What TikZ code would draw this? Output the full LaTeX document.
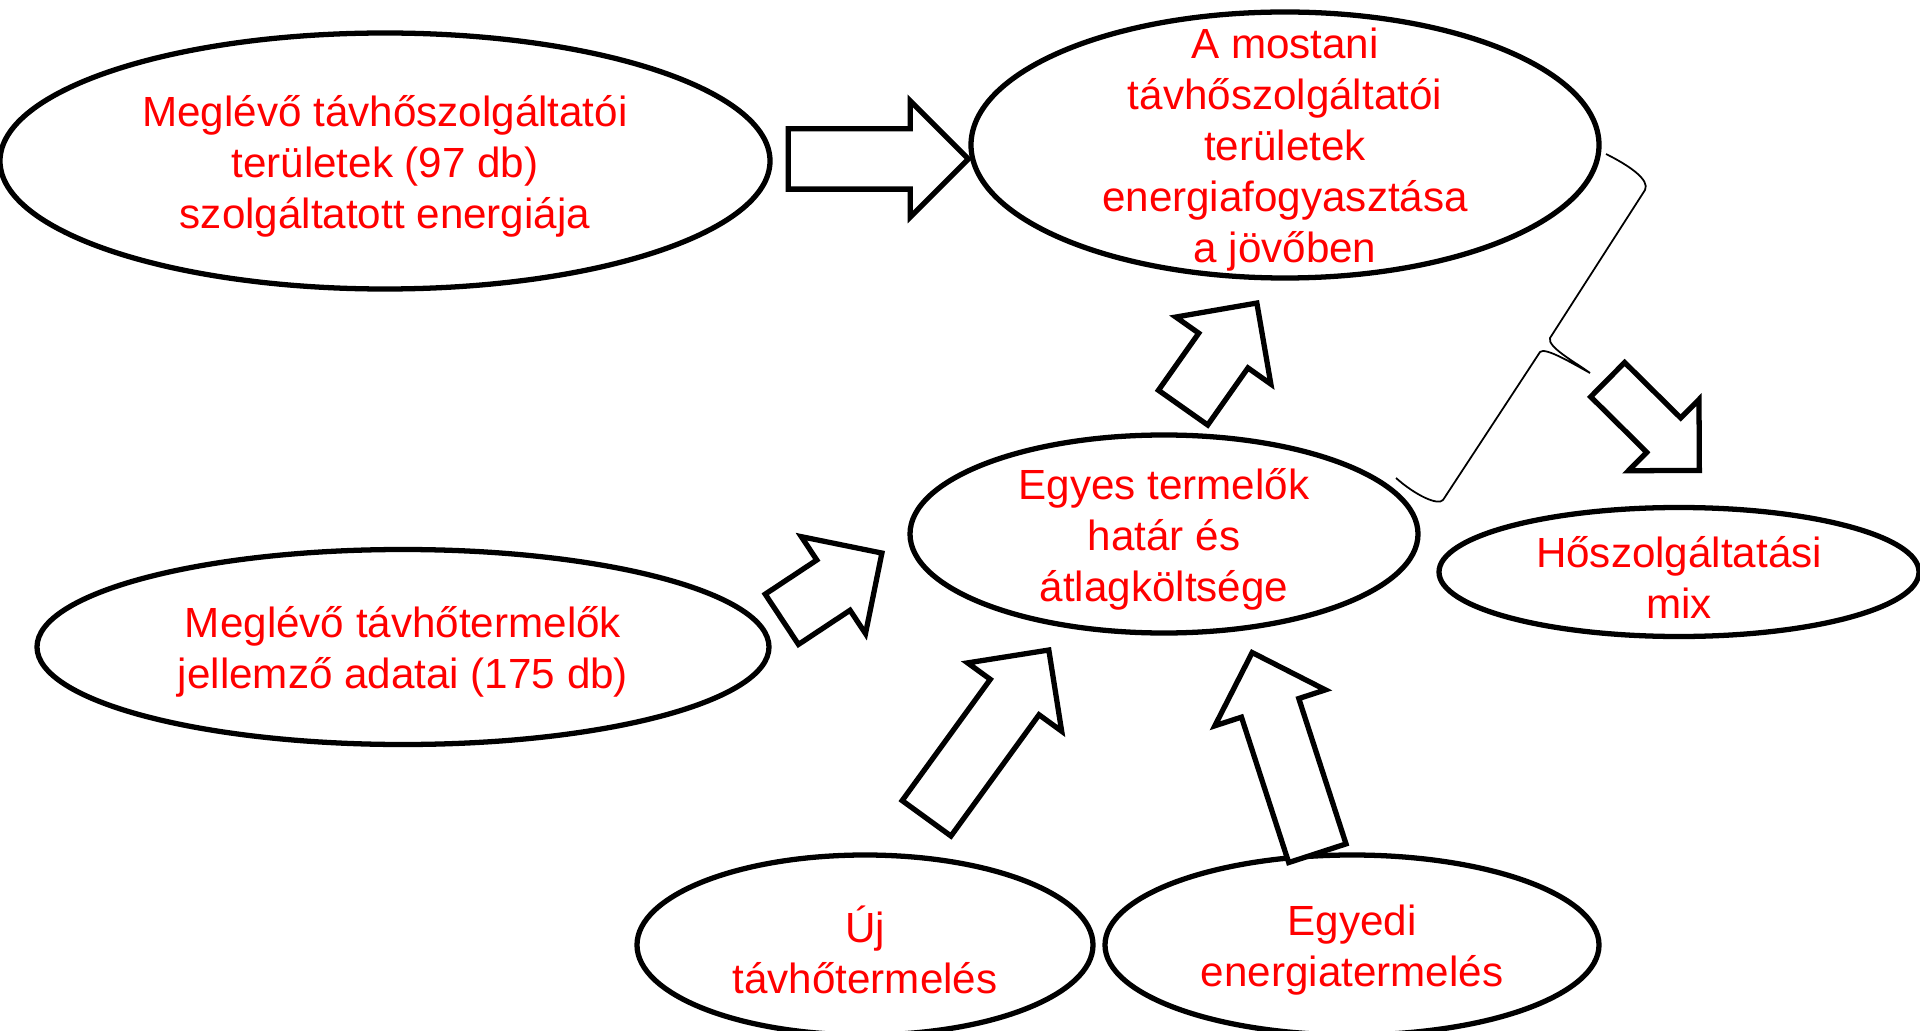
\documentclass[tikz,border=0pt]{standalone}
\usepackage{fontspec}
\setmainfont{Liberation Sans}
\usetikzlibrary{shapes.geometric,shapes.arrows}

\begin{document}
\begin{tikzpicture}[ell/.style={ellipse, draw, line width=1.5pt, inner sep=0pt}, txt/.style={text=red, align=center, inner sep=0pt, yshift=-0.05cm, font=\fontsize{12pt}{14.5pt}\selectfont}, blok/.style={single arrow, draw, line width=1.5pt, fill=white, inner sep=0.275cm, single arrow head extend=0.28cm, anchor=tip}]

\useasboundingbox (0,0) rectangle (19.2,-10.31);

\node at (3.85,-1.61) [ell, minimum width=7.7cm, minimum height=2.56cm, label={[txt]center:{Meglévő távhőszolgáltatói\\területek (97 db)\\szolgáltatott energiája}}] (szolgaltatott) {};
\node at (12.85,-1.45) [ell, minimum width=6.28cm, minimum height=2.66cm, label={[txt]center:{A mostani\\távhőszolgáltatói\\területek\\energiafogyasztása\\a jövőben}}] (fogyasztas) {};
\node at (11.64,-5.34) [ell, minimum width=5.08cm, minimum height=1.98cm, label={[txt]center:{Egyes termelők\\határ és\\átlagköltsége}}] (koltseg) {};
\node at (16.79,-5.72) [ell, minimum width=4.8cm, minimum height=1.29cm, label={[txt]center:{Hőszolgáltatási\\mix}}] (mix) {};
\node at (4.03,-6.47) [ell, minimum width=7.32cm, minimum height=1.95cm, label={[txt]center:{Meglévő távhőtermelők\\jellemző adatai (175 db)}}] (termelok) {};
\node at (8.65,-9.45) [ell, minimum width=4.56cm, minimum height=1.8cm, label={[txt]center:{Új\\távhőtermelés}}] (ujtermeles) {};
\node at (13.52,-9.45) [ell, minimum width=4.94cm, minimum height=1.8cm, label={[txt]center:{Egyedi\\energiatermelés}}] (egyedi) {};

\node at (9.72,-1.59) [blok, minimum height=1.8cm] (nyil1) {};
\node at (12.59,-3.00) [blok, rotate=54.8, minimum height=1.28cm] (nyil2) {};
\node at (8.85,-5.51) [blok, rotate=33.5, minimum height=1.2cm] (nyil3) {};
\node at (10.51,-6.47) [blok, rotate=54, minimum height=2.08cm] (nyil4) {};
\node at (12.51,-6.49) [blok, rotate=108, minimum height=2.11cm] (nyil5) {};
\node at (17.02,-4.73) [blok, rotate=-44.7, inner sep=0.215cm, single arrow head extend=0.26cm, minimum height=1.29cm] (nyil6) {};

\draw [line width=0.5pt] (16.06,-1.54) .. controls (16.30,-1.66) and (16.50,-1.80) .. (16.45,-1.90) -- (15.50,-3.38) .. controls (15.47,-3.47) and (15.75,-3.62) .. (15.90,-3.73) .. controls (15.70,-3.62) and (15.45,-3.47) .. (15.40,-3.52) -- (14.43,-5.00) .. controls (14.38,-5.06) and (14.15,-4.95) .. (13.96,-4.78);

\end{tikzpicture}
\end{document}
